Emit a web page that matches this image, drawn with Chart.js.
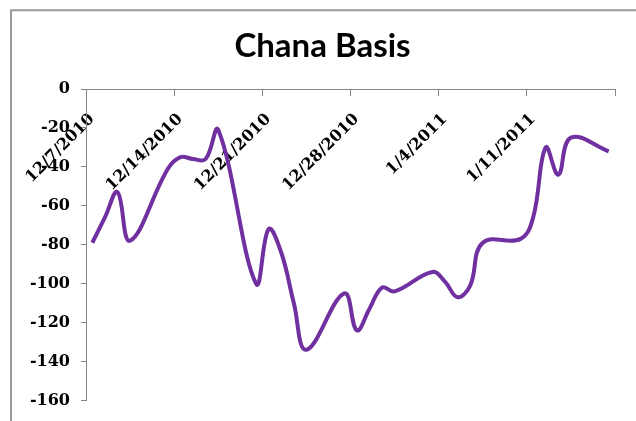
<!DOCTYPE html>
<html>
<head>
<meta charset="utf-8">
<script src="https://cdn.jsdelivr.net/npm/chart.js@4.4.1/dist/chart.umd.min.js"></script>
<style>
  html, body { margin: 0; padding: 0; background: #ffffff; }
  #wrap { position: relative; width: 636px; height: 421px; }
</style>
</head>
<body>
<div id="wrap"><canvas id="c" width="636" height="421"></canvas></div>
<script>
// ---- data ----
const dates = ['2010-12-07', '2010-12-08', '2010-12-09', '2010-12-10', '2010-12-13', '2010-12-14',
  '2010-12-15', '2010-12-16', '2010-12-17', '2010-12-20', '2010-12-21', '2010-12-22', '2010-12-23',
  '2010-12-24', '2010-12-27', '2010-12-28', '2010-12-29', '2010-12-30', '2010-12-31', '2011-01-03',
  '2011-01-04', '2011-01-05', '2011-01-06', '2011-01-07', '2011-01-10', '2011-01-11', '2011-01-12',
  '2011-01-13', '2011-01-14', '2011-01-17'];
const basis = [-79, -66, -53, -78, -41, -35, -36, -36, -21, -100, -72, -84, -110, -134, -105, -124,
  -113, -102, -104, -94, -99, -107, -101, -79, -77, -66, -30, -44, -25, -32];
const xTickLabels = ['12/7/2010', '12/14/2010', '12/21/2010', '12/28/2010', '1/4/2011', '1/11/2011', ''];
const yTickValues = [0, -20, -40, -60, -80, -100, -120, -140, -160];
const chartTitle = 'Chana Basis';

// day offset of each date from the first axis date (points sit in the middle of their day slot)
const startMs = Date.UTC(2010, 11, 7);
function dayOffset(s) {
  const p = s.split('-').map(Number);
  return (Date.UTC(p[0], p[1] - 1, p[2]) - startMs) / 86400000;
}
const points = dates.map((d, i) => ({ x: dayOffset(d) + 0.5, y: basis[i] }));

const axisGray = '#868686';
const tickFont = { family: '"DejaVu Serif", serif', size: 16, weight: 'bold' };

const framePlugin = {
  id: 'frame',
  beforeDraw(chart) {
    const ctx = chart.ctx;
    ctx.save();
    ctx.fillStyle = '#ffffff';
    ctx.fillRect(0, 0, chart.width, chart.height);
    ctx.strokeStyle = '#9a9a9a';
    ctx.lineWidth = 2;
    ctx.beginPath();
    ctx.moveTo(11, chart.height + 2);
    ctx.lineTo(11, 10.3);
    ctx.lineTo(chart.width + 2, 10.3);
    ctx.stroke();
    ctx.restore();
  }
};

new Chart(document.getElementById('c'), {
  type: 'line',
  data: {
    datasets: [{
      label: chartTitle,
      data: points,
      borderColor: '#7030A0',
      backgroundColor: '#7030A0',
      borderWidth: 4,
      pointRadius: 0,
      tension: 0.4,
      fill: false
    }]
  },
  options: {
    responsive: false,
    animation: false,
    devicePixelRatio: 1,
    layout: { padding: { left: 30, right: 21, top: 0, bottom: 17 } },
    plugins: {
      legend: { display: false },
      tooltip: { enabled: false },
      title: {
        display: true,
        text: chartTitle,
        color: '#000000',
        font: { family: 'Lato, "Open Sans", sans-serif', size: 33, weight: 'bold' },
        padding: { top: 27, bottom: 22.4 }
      }
    },
    scales: {
      x: {
        type: 'linear',
        position: { y: 0 },
        min: 0,
        max: 42,
        afterBuildTicks(scale) {
          scale.ticks = xTickLabels.map((_, i) => ({ value: i * 7 }));
        },
        afterFit(scale) { scale.paddingLeft = 0; scale.paddingRight = 0; },
        grid: { drawOnChartArea: false, drawTicks: true, tickLength: 6, color: axisGray, lineWidth: 1 },
        border: { display: true, color: axisGray, width: 1 },
        ticks: {
          autoSkip: false,
          minRotation: 45,
          maxRotation: 45,
          labelOffset: 6,
          padding: 15,
          color: '#000000',
          font: tickFont,
          callback: (v) => xTickLabels[Math.round(v / 7)]
        }
      },
      y: {
        type: 'linear',
        position: 'left',
        min: -160,
        max: 0,
        afterBuildTicks(scale) {
          scale.ticks = yTickValues.map(v => ({ value: v }));
        },
        afterFit(scale) { scale.width = 56; },
        grid: { drawOnChartArea: false, drawTicks: true, tickLength: 5, color: axisGray, lineWidth: 1 },
        border: { display: true, color: axisGray, width: 1 },
        ticks: {
          padding: 11,
          color: '#000000',
          font: tickFont,
          callback: (v) => String(v)
        }
      }
    }
  },
  plugins: [framePlugin]
});
</script>
</body>
</html>
